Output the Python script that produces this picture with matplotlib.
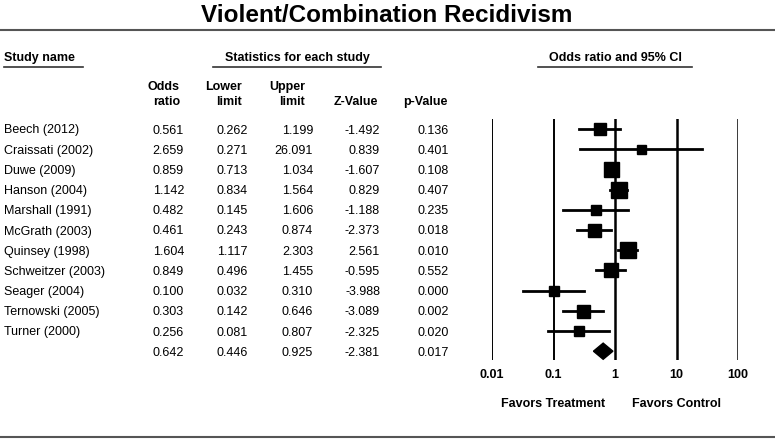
import matplotlib
matplotlib.use("Agg")
import matplotlib.pyplot as plt

plt.rcParams['font.family'] = ['Liberation Sans', 'DejaVu Sans']

studies = ["Beech (2012)", "Craissati (2002)", "Duwe (2009)", "Hanson (2004)",
           "Marshall (1991)", "McGrath (2003)", "Quinsey (1998)", "Schweitzer (2003)",
           "Seager (2004)", "Ternowski (2005)", "Turner (2000)"]
odds = [0.561, 2.659, 0.859, 1.142, 0.482, 0.461, 1.604, 0.849, 0.100, 0.303, 0.256]
lower = [0.262, 0.271, 0.713, 0.834, 0.145, 0.243, 1.117, 0.496, 0.032, 0.142, 0.081]
upper = [1.199, 26.091, 1.034, 1.564, 1.606, 0.874, 2.303, 1.455, 0.310, 0.646, 0.807]
zval = [-1.492, 0.839, -1.607, 0.829, -1.188, -2.373, 2.561, -0.595, -3.988, -3.089, -2.325]
pval = [0.136, 0.401, 0.108, 0.407, 0.235, 0.018, 0.010, 0.552, 0.000, 0.002, 0.020]
# relative study weight (square size)
weight = [12.5, 9, 15, 16, 10, 13, 16, 14, 10, 13, 10]
summary = {"odds": 0.642, "lower": 0.446, "upper": 0.925, "z": -2.381, "p": 0.017}
ticks = [0.01, 0.1, 1, 10, 100]
tick_labels = ["0.01", "0.1", "1", "10", "100"]

W, H = 775, 441
FS = 9
fig = plt.figure(figsize=(W / 100, H / 100), dpi=100)

# text layer in pixel coordinates
tx = fig.add_axes([0, 0, 1, 1])
tx.set_xlim(0, W)
tx.set_ylim(H, 0)
tx.axis("off")

tx.text(387, 15, "Violent/Combination Recidivism", ha="center", va="center",
        fontsize=17.5, fontweight="bold")
tx.plot([0, W], [30, 30], color="#555555", lw=1.5)
tx.plot([0, W], [437, 437], color="#555555", lw=1.5)

tx.text(4, 58, "Study name", ha="left", va="center", fontsize=FS, fontweight="bold")
tx.plot([4, 83], [67, 67], color="#333333", lw=1.2)
tx.text(297, 58, "Statistics for each study", ha="center", va="center",
        fontsize=FS, fontweight="bold")
tx.plot([213, 381], [67, 67], color="#333333", lw=1.2)
tx.text(615, 58, "Odds ratio and 95% CI", ha="center", va="center",
        fontsize=FS, fontweight="bold")
tx.plot([538, 692], [67, 67], color="#333333", lw=1.2)

cols = [(180, "Odds", "ratio"), (242, "Lower", "limit"), (305, "Upper", "limit"),
        (378, "", "Z-Value"), (448, "", "p-Value")]
for x, h1, h2 in cols:
    tx.text(x, 87, h1, ha="right", va="center", fontsize=FS, fontweight="bold")
    tx.text(x, 102, h2, ha="right", va="center", fontsize=FS, fontweight="bold")

row0, step = 129, 20.2
text_dy = 1.5
num_x = [184, 248, 313, 380, 449]
for i, name in enumerate(studies):
    y = row0 + i * step + text_dy
    tx.text(4, y, name, ha="left", va="center", fontsize=FS)
    for x, v in zip(num_x, [odds[i], lower[i], upper[i], zval[i], pval[i]]):
        tx.text(x, y, f"{v:.3f}", ha="right", va="center", fontsize=FS)
ys = row0 + len(studies) * step + text_dy
for x, v in zip(num_x, [summary["odds"], summary["lower"], summary["upper"],
                        summary["z"], summary["p"]]):
    tx.text(x, ys, f"{v:.3f}", ha="right", va="center", fontsize=FS)

# forest panel
left, right, top, bot = 492, 738, 119, 360
ax = fig.add_axes([left / W, 1 - bot / H, (right - left) / W, (bot - top) / H])
ax.set_xscale("log")
ax.set_xlim(0.01, 100)
ax.set_ylim((bot - row0) / step, -(row0 - top) / step)
for s in ax.spines.values():
    s.set_visible(False)
ax.set_yticks([])
ax.set_xticks([])
ax.minorticks_off()
ax.patch.set_alpha(0)

for t in ticks:
    ax.axvline(t, color="black", lw=1.4 if t < 1 else 1.8)

for i in range(len(studies)):
    ax.plot([lower[i], upper[i]], [i, i], color="black", lw=2, clip_on=False)
    ax.plot(odds[i], i, marker="s", color="black", ms=weight[i] * 0.72,
            clip_on=False)
n = len(studies)
lo, hi, mid = summary["lower"], summary["upper"], summary["odds"]
ax.fill([lo, mid, hi, mid], [n, n - 0.4, n, n + 0.4], color="black", clip_on=False)

for k, lab in enumerate(tick_labels):
    x_pix = left + (right - left) * k / (len(ticks) - 1)
    tx.text(x_pix, 375, lab, ha="center", va="center", fontsize=FS, fontweight="bold")
tx.text(553, 404, "Favors Treatment", ha="center", va="center", fontsize=FS,
        fontweight="bold")
tx.text(676, 404, "Favors Control", ha="center", va="center", fontsize=FS,
        fontweight="bold")

fig.savefig("out.png", dpi=100, facecolor="white")
